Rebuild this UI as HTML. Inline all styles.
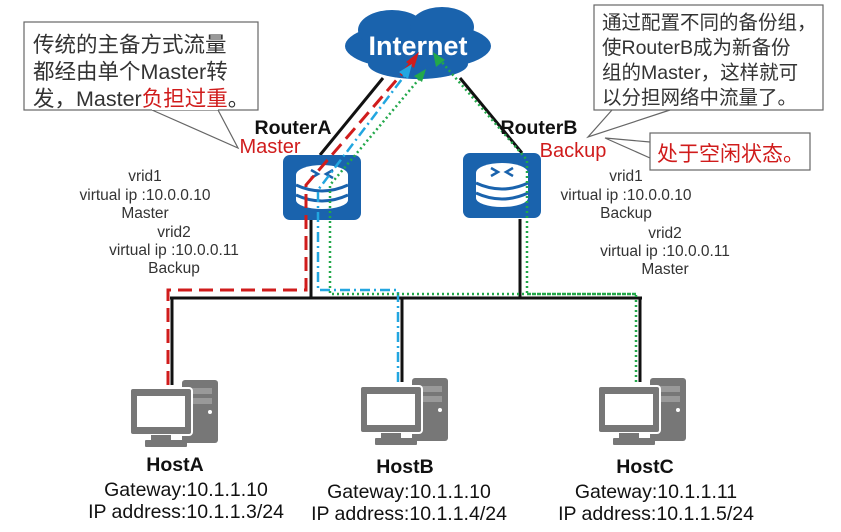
<!DOCTYPE html>
<html><head><meta charset="utf-8"><style>
body{margin:0;background:#fff;}
svg{display:block;}
text{font-family:"Liberation Sans","Noto Sans CJK SC",sans-serif;}
.s{fill:#333;font-size:15.5px;text-anchor:middle;}
.h{fill:#111;font-size:19.5px;text-anchor:middle;}
</style></head><body>
<svg width="841" height="532" viewBox="0 0 841 532" xmlns="http://www.w3.org/2000/svg">
<defs>
<g id="host">
<rect x="52" y="0" width="36" height="63" rx="3" fill="#777"/>
<rect x="60" y="8" width="22" height="6" fill="#999"/>
<rect x="60" y="18" width="22" height="6" fill="#999"/>
<circle cx="80" cy="32" r="2" fill="#fff"/>
<rect x="0" y="8" width="62" height="47" rx="3" fill="#777" stroke="#fff" stroke-width="2"/>
<rect x="7" y="16" width="48" height="31" fill="#fff"/>
<rect x="21" y="55" width="20" height="6" fill="#777"/>
<rect x="15" y="60" width="42" height="7" rx="1" fill="#777"/>
</g>
<g id="router">
<rect x="0" y="0" width="78" height="65" rx="7" fill="#1a63ad"/>
<ellipse cx="39" cy="45" rx="26" ry="9" fill="#fff"/>
<rect x="13" y="20" width="52" height="25" fill="#fff"/>
<ellipse cx="39" cy="20" rx="26" ry="10" fill="#fff"/>
<path d="M13 30 Q39 42 65 30" fill="none" stroke="#1a63ad" stroke-width="3"/>
<path d="M13 40 Q39 52 65 40" fill="none" stroke="#1a63ad" stroke-width="3"/>
<path d="M28 15 l7 4 l-7 4 M50 15 l-7 4 l7 4" fill="none" stroke="#1a63ad" stroke-width="2.5"/>
</g>
</defs>
<!-- cloud -->
<g fill="#1a63ad">
<ellipse cx="418" cy="46" rx="73" ry="24"/>
<ellipse cx="392" cy="30" rx="34" ry="20"/>
<ellipse cx="442" cy="27" rx="32" ry="20"/>
<ellipse cx="418" cy="64" rx="50" ry="15"/>
</g>
<text x="418" y="55" fill="#fff" font-size="27" font-weight="bold" text-anchor="middle">Internet</text>
<!-- black links -->
<g stroke="#111" stroke-width="3" fill="none">
<line x1="383" y1="78" x2="320" y2="155"/>
<line x1="460" y1="78" x2="522" y2="153"/>
<line x1="311" y1="220" x2="311" y2="298"/>
<line x1="520" y1="219" x2="520" y2="298"/>
<line x1="170" y1="298" x2="642" y2="298"/>
<line x1="172" y1="298" x2="172" y2="385"/>
<line x1="402" y1="298" x2="402" y2="382"/>
<line x1="640" y1="298" x2="640" y2="382"/>
</g>
<use href="#router" x="283" y="155"/>
<use href="#router" x="463" y="153"/>
<!-- paths -->
<path d="M168 385 L168 290 L306 290 L306 185 L412 62" fill="none" stroke="#d01c1c" stroke-width="3" stroke-dasharray="14,7"/>
<polygon points="419,52 406,62 414,68" fill="#d01c1c"/>
<path d="M398 382 L398 290 L318 290 L318 190 L405 75" fill="none" stroke="#22a6e0" stroke-width="2.5" stroke-dasharray="10,4,2,4"/>
<polygon points="412,64 399,72 408,79" fill="#22a6e0"/>
<path d="M636 382 L636 294 L330 294 L330 185 L420 78" fill="none" stroke="#22a84a" stroke-width="2.5" stroke-dasharray="2,3"/>
<polygon points="426,69 414,76 422,82" fill="#22a84a"/>
<path d="M636 294 L527 294 L527 160 L440 60" fill="none" stroke="#22a84a" stroke-width="2.5" stroke-dasharray="2,3"/>
<polygon points="433,52 436,67 445,60" fill="#22a84a"/>
<!-- hosts -->
<use href="#host" x="130" y="380"/>
<use href="#host" x="360" y="378"/>
<use href="#host" x="598" y="378"/>
<text x="175" y="471" font-size="19.5" font-weight="bold" fill="#111" text-anchor="middle">HostA</text>
<text x="405" y="473" font-size="19.5" font-weight="bold" fill="#111" text-anchor="middle">HostB</text>
<text x="645" y="473" font-size="19.5" font-weight="bold" fill="#111" text-anchor="middle">HostC</text>
<text x="186" y="496" class="h">Gateway:10.1.1.10</text>
<text x="186" y="518" class="h">IP address:10.1.1.3/24</text>
<text x="409" y="498" class="h">Gateway:10.1.1.10</text>
<text x="409" y="520" class="h">IP address:10.1.1.4/24</text>
<text x="656" y="498" class="h">Gateway:10.1.1.11</text>
<text x="656" y="520" class="h">IP address:10.1.1.5/24</text>
<!-- router labels -->
<text x="293" y="134" font-size="19.5" font-weight="bold" fill="#111" text-anchor="middle">RouterA</text>
<text x="270" y="153" font-size="20" fill="#d01c1c" text-anchor="middle">Master</text>
<text x="539" y="134" font-size="19.5" font-weight="bold" fill="#111" text-anchor="middle">RouterB</text>
<text x="573" y="157" font-size="20" fill="#d01c1c" text-anchor="middle">Backup</text>
<!-- vrid text -->
<text x="145" y="181" class="s">vrid1</text>
<text x="145" y="200" class="s">virtual ip :10.0.0.10</text>
<text x="145" y="218" class="s">Master</text>
<text x="174" y="237" class="s">vrid2</text>
<text x="174" y="255" class="s">virtual ip :10.0.0.11</text>
<text x="174" y="273" class="s">Backup</text>
<text x="626" y="181" class="s">vrid1</text>
<text x="626" y="200" class="s">virtual ip :10.0.0.10</text>
<text x="626" y="218" class="s">Backup</text>
<text x="665" y="238" class="s">vrid2</text>
<text x="665" y="256" class="s">virtual ip :10.0.0.11</text>
<text x="665" y="274" class="s">Master</text>
<!-- callouts -->
<g fill="#fff" stroke="#666" stroke-width="1.2">
<polyline points="152,110 238,148 218,110"/>
<rect x="24" y="22" width="234" height="88"/>
<polyline points="670,110 588,137 612,110"/>
<rect x="594" y="5" width="229" height="105"/>
<polyline points="650,142 605,138 650,158"/>
<rect x="650" y="133" width="160" height="37"/>
</g>
<line x1="218" y1="109" x2="152" y2="109" stroke="#fff" stroke-width="2"/>
<g font-size="21.5" fill="#333">
<text x="33" y="52">传统的主备方式流量</text>
<text x="33" y="79">都经由单个Master转</text>
<text x="33" y="106">发，Master<tspan fill="#d01c1c">负担过重</tspan>。</text>
</g>
<g font-size="19.5" fill="#333">
<text x="602" y="29">通过配置不同的备份组，</text>
<text x="602" y="54">使RouterB成为新备份</text>
<text x="602" y="79">组的Master，这样就可</text>
<text x="602" y="104">以分担网络中流量了。</text>
</g>
<text x="657" y="161" font-size="21" fill="#d01c1c">处于空闲状态。</text>
</svg>
</body></html>
